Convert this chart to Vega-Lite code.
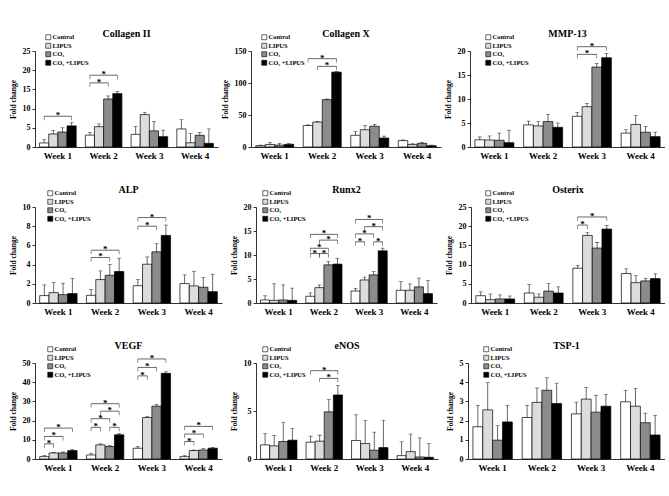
{
"$schema": "https://vega.github.io/schema/vega-lite/v6.json",
"padding": {"left": 9, "top": 29, "right": 0, "bottom": 0},
"datasets": {
"bars": [
{"gene":"Collagen II","week":"Week 1","group":"Control","value":1.05,"upper":1.9},
{"gene":"Collagen II","week":"Week 1","group":"LIPUS","value":3.4,"upper":4.3},
{"gene":"Collagen II","week":"Week 1","group":"CO₂","value":3.9,"upper":5.0},
{"gene":"Collagen II","week":"Week 1","group":"CO₂ +LIPUS","value":5.5,"upper":6.3},
{"gene":"Collagen II","week":"Week 2","group":"Control","value":3.1,"upper":3.8},
{"gene":"Collagen II","week":"Week 2","group":"LIPUS","value":5.3,"upper":6.0},
{"gene":"Collagen II","week":"Week 2","group":"CO₂","value":12.5,"upper":13.3},
{"gene":"Collagen II","week":"Week 2","group":"CO₂ +LIPUS","value":13.9,"upper":14.5},
{"gene":"Collagen II","week":"Week 3","group":"Control","value":3.3,"upper":5.4},
{"gene":"Collagen II","week":"Week 3","group":"LIPUS","value":8.45,"upper":9.05},
{"gene":"Collagen II","week":"Week 3","group":"CO₂","value":4.2,"upper":6.7},
{"gene":"Collagen II","week":"Week 3","group":"CO₂ +LIPUS","value":2.7,"upper":4.4},
{"gene":"Collagen II","week":"Week 4","group":"Control","value":4.7,"upper":7.1},
{"gene":"Collagen II","week":"Week 4","group":"LIPUS","value":1.1,"upper":3.5},
{"gene":"Collagen II","week":"Week 4","group":"CO₂","value":3.05,"upper":3.8},
{"gene":"Collagen II","week":"Week 4","group":"CO₂ +LIPUS","value":0.95,"upper":4.7},
{"gene":"Collagen X","week":"Week 1","group":"Control","value":2.1,"upper":3.0},
{"gene":"Collagen X","week":"Week 1","group":"LIPUS","value":4.0,"upper":6.8},
{"gene":"Collagen X","week":"Week 1","group":"CO₂","value":3.0,"upper":5.7},
{"gene":"Collagen X","week":"Week 1","group":"CO₂ +LIPUS","value":4.2,"upper":5.2},
{"gene":"Collagen X","week":"Week 2","group":"Control","value":33.5,"upper":34.5},
{"gene":"Collagen X","week":"Week 2","group":"LIPUS","value":39,"upper":40},
{"gene":"Collagen X","week":"Week 2","group":"CO₂","value":74,"upper":75},
{"gene":"Collagen X","week":"Week 2","group":"CO₂ +LIPUS","value":117,"upper":118},
{"gene":"Collagen X","week":"Week 3","group":"Control","value":18.3,"upper":24},
{"gene":"Collagen X","week":"Week 3","group":"LIPUS","value":27,"upper":33.5},
{"gene":"Collagen X","week":"Week 3","group":"CO₂","value":32.4,"upper":35.5},
{"gene":"Collagen X","week":"Week 3","group":"CO₂ +LIPUS","value":14,"upper":17},
{"gene":"Collagen X","week":"Week 4","group":"Control","value":10,"upper":11},
{"gene":"Collagen X","week":"Week 4","group":"LIPUS","value":4,"upper":5},
{"gene":"Collagen X","week":"Week 4","group":"CO₂","value":5.7,"upper":6.8},
{"gene":"Collagen X","week":"Week 4","group":"CO₂ +LIPUS","value":2,"upper":3},
{"gene":"MMP-13","week":"Week 1","group":"Control","value":1.5,"upper":2.1},
{"gene":"MMP-13","week":"Week 1","group":"LIPUS","value":1.46,"upper":2.3},
{"gene":"MMP-13","week":"Week 1","group":"CO₂","value":1.4,"upper":2.9},
{"gene":"MMP-13","week":"Week 1","group":"CO₂ +LIPUS","value":0.9,"upper":3.5},
{"gene":"MMP-13","week":"Week 2","group":"Control","value":4.6,"upper":5.4},
{"gene":"MMP-13","week":"Week 2","group":"LIPUS","value":4.4,"upper":5.3},
{"gene":"MMP-13","week":"Week 2","group":"CO₂","value":5.3,"upper":6.8},
{"gene":"MMP-13","week":"Week 2","group":"CO₂ +LIPUS","value":4.1,"upper":5.0},
{"gene":"MMP-13","week":"Week 3","group":"Control","value":6.4,"upper":7.2},
{"gene":"MMP-13","week":"Week 3","group":"LIPUS","value":8.4,"upper":9.05},
{"gene":"MMP-13","week":"Week 3","group":"CO₂","value":16.65,"upper":17.4},
{"gene":"MMP-13","week":"Week 3","group":"CO₂ +LIPUS","value":18.6,"upper":19.5},
{"gene":"MMP-13","week":"Week 4","group":"Control","value":2.9,"upper":3.6},
{"gene":"MMP-13","week":"Week 4","group":"LIPUS","value":4.7,"upper":6.55},
{"gene":"MMP-13","week":"Week 4","group":"CO₂","value":3.07,"upper":4.3},
{"gene":"MMP-13","week":"Week 4","group":"CO₂ +LIPUS","value":2.16,"upper":3.1},
{"gene":"ALP","week":"Week 1","group":"Control","value":0.77,"upper":1.88},
{"gene":"ALP","week":"Week 1","group":"LIPUS","value":1.08,"upper":2.13},
{"gene":"ALP","week":"Week 1","group":"CO₂","value":0.87,"upper":2.06},
{"gene":"ALP","week":"Week 1","group":"CO₂ +LIPUS","value":0.98,"upper":2.58},
{"gene":"ALP","week":"Week 2","group":"Control","value":0.8,"upper":1.43},
{"gene":"ALP","week":"Week 2","group":"LIPUS","value":2.44,"upper":3.34},
{"gene":"ALP","week":"Week 2","group":"CO₂","value":2.89,"upper":4.0},
{"gene":"ALP","week":"Week 2","group":"CO₂ +LIPUS","value":3.28,"upper":4.67},
{"gene":"ALP","week":"Week 3","group":"Control","value":1.8,"upper":2.44},
{"gene":"ALP","week":"Week 3","group":"LIPUS","value":4.04,"upper":4.8},
{"gene":"ALP","week":"Week 3","group":"CO₂","value":5.33,"upper":6.17},
{"gene":"ALP","week":"Week 3","group":"CO₂ +LIPUS","value":7.04,"upper":8.12},
{"gene":"ALP","week":"Week 4","group":"Control","value":2.02,"upper":2.93},
{"gene":"ALP","week":"Week 4","group":"LIPUS","value":1.78,"upper":3.31},
{"gene":"ALP","week":"Week 4","group":"CO₂","value":1.64,"upper":2.65},
{"gene":"ALP","week":"Week 4","group":"CO₂ +LIPUS","value":1.18,"upper":3.0},
{"gene":"Runx2","week":"Week 1","group":"Control","value":0.63,"upper":1.5},
{"gene":"Runx2","week":"Week 1","group":"LIPUS","value":0.55,"upper":4.0},
{"gene":"Runx2","week":"Week 1","group":"CO₂","value":0.63,"upper":3.76},
{"gene":"Runx2","week":"Week 1","group":"CO₂ +LIPUS","value":0.55,"upper":3.1},
{"gene":"Runx2","week":"Week 2","group":"Control","value":1.4,"upper":2.1},
{"gene":"Runx2","week":"Week 2","group":"LIPUS","value":3.2,"upper":3.76},
{"gene":"Runx2","week":"Week 2","group":"CO₂","value":7.94,"upper":8.64},
{"gene":"Runx2","week":"Week 2","group":"CO₂ +LIPUS","value":8.1,"upper":9.27},
{"gene":"Runx2","week":"Week 3","group":"Control","value":2.5,"upper":3.07},
{"gene":"Runx2","week":"Week 3","group":"LIPUS","value":4.8,"upper":5.4},
{"gene":"Runx2","week":"Week 3","group":"CO₂","value":5.85,"upper":6.55},
{"gene":"Runx2","week":"Week 3","group":"CO₂ +LIPUS","value":10.87,"upper":11.43},
{"gene":"Runx2","week":"Week 4","group":"Control","value":2.65,"upper":4.46},
{"gene":"Runx2","week":"Week 4","group":"LIPUS","value":2.65,"upper":3.97},
{"gene":"Runx2","week":"Week 4","group":"CO₂","value":3.35,"upper":5.2},
{"gene":"Runx2","week":"Week 4","group":"CO₂ +LIPUS","value":1.95,"upper":4.67},
{"gene":"Osterix","week":"Week 1","group":"Control","value":1.9,"upper":2.9},
{"gene":"Osterix","week":"Week 1","group":"LIPUS","value":0.87,"upper":2.35},
{"gene":"Osterix","week":"Week 1","group":"CO₂","value":1.05,"upper":2.1},
{"gene":"Osterix","week":"Week 1","group":"CO₂ +LIPUS","value":1.05,"upper":1.83},
{"gene":"Osterix","week":"Week 2","group":"Control","value":2.6,"upper":4.8},
{"gene":"Osterix","week":"Week 2","group":"LIPUS","value":1.5,"upper":2.35},
{"gene":"Osterix","week":"Week 2","group":"CO₂","value":3.1,"upper":5.05},
{"gene":"Osterix","week":"Week 2","group":"CO₂ +LIPUS","value":2.6,"upper":4.2},
{"gene":"Osterix","week":"Week 3","group":"Control","value":9.06,"upper":9.84},
{"gene":"Osterix","week":"Week 3","group":"LIPUS","value":17.6,"upper":18.3},
{"gene":"Osterix","week":"Week 3","group":"CO₂","value":14.3,"upper":15.8},
{"gene":"Osterix","week":"Week 3","group":"CO₂ +LIPUS","value":19.25,"upper":20.2},
{"gene":"Osterix","week":"Week 4","group":"Control","value":7.67,"upper":8.9},
{"gene":"Osterix","week":"Week 4","group":"LIPUS","value":5.3,"upper":7.1},
{"gene":"Osterix","week":"Week 4","group":"CO₂","value":5.75,"upper":6.45},
{"gene":"Osterix","week":"Week 4","group":"CO₂ +LIPUS","value":6.36,"upper":7.58},
{"gene":"VEGF","week":"Week 1","group":"Control","value":1.23,"upper":1.93},
{"gene":"VEGF","week":"Week 1","group":"LIPUS","value":3.16,"upper":3.5},
{"gene":"VEGF","week":"Week 1","group":"CO₂","value":3.16,"upper":3.68},
{"gene":"VEGF","week":"Week 1","group":"CO₂ +LIPUS","value":4.4,"upper":4.9},
{"gene":"VEGF","week":"Week 2","group":"Control","value":2.1,"upper":3.0},
{"gene":"VEGF","week":"Week 2","group":"LIPUS","value":7.37,"upper":7.9},
{"gene":"VEGF","week":"Week 2","group":"CO₂","value":6.5,"upper":7.0},
{"gene":"VEGF","week":"Week 2","group":"CO₂ +LIPUS","value":12.6,"upper":13.3},
{"gene":"VEGF","week":"Week 3","group":"Control","value":5.6,"upper":6.5},
{"gene":"VEGF","week":"Week 3","group":"LIPUS","value":21.6,"upper":22.1},
{"gene":"VEGF","week":"Week 3","group":"CO₂","value":27.5,"upper":28.4},
{"gene":"VEGF","week":"Week 3","group":"CO₂ +LIPUS","value":44.6,"upper":45.4},
{"gene":"VEGF","week":"Week 4","group":"Control","value":1.23,"upper":1.75},
{"gene":"VEGF","week":"Week 4","group":"LIPUS","value":4.4,"upper":4.7},
{"gene":"VEGF","week":"Week 4","group":"CO₂","value":4.7,"upper":5.4},
{"gene":"VEGF","week":"Week 4","group":"CO₂ +LIPUS","value":5.6,"upper":6.1},
{"gene":"eNOS","week":"Week 1","group":"Control","value":1.47,"upper":2.63},
{"gene":"eNOS","week":"Week 1","group":"LIPUS","value":1.37,"upper":2.46},
{"gene":"eNOS","week":"Week 1","group":"CO₂","value":1.82,"upper":3.79},
{"gene":"eNOS","week":"Week 1","group":"CO₂ +LIPUS","value":1.96,"upper":3.16},
{"gene":"eNOS","week":"Week 2","group":"Control","value":1.75,"upper":2.39},
{"gene":"eNOS","week":"Week 2","group":"LIPUS","value":1.86,"upper":2.49},
{"gene":"eNOS","week":"Week 2","group":"CO₂","value":4.91,"upper":6.2},
{"gene":"eNOS","week":"Week 2","group":"CO₂ +LIPUS","value":6.67,"upper":7.68},
{"gene":"eNOS","week":"Week 3","group":"Control","value":1.93,"upper":4.6},
{"gene":"eNOS","week":"Week 3","group":"LIPUS","value":1.61,"upper":4.0},
{"gene":"eNOS","week":"Week 3","group":"CO₂","value":0.91,"upper":2.8},
{"gene":"eNOS","week":"Week 3","group":"CO₂ +LIPUS","value":1.19,"upper":4.04},
{"gene":"eNOS","week":"Week 4","group":"Control","value":0.35,"upper":1.79},
{"gene":"eNOS","week":"Week 4","group":"LIPUS","value":0.77,"upper":2.6},
{"gene":"eNOS","week":"Week 4","group":"CO₂","value":0.21,"upper":2.2},
{"gene":"eNOS","week":"Week 4","group":"CO₂ +LIPUS","value":0.18,"upper":1.6},
{"gene":"TSP-1","week":"Week 1","group":"Control","value":1.68,"upper":2.8},
{"gene":"TSP-1","week":"Week 1","group":"LIPUS","value":2.56,"upper":3.98},
{"gene":"TSP-1","week":"Week 1","group":"CO₂","value":0.98,"upper":1.74},
{"gene":"TSP-1","week":"Week 1","group":"CO₂ +LIPUS","value":1.93,"upper":2.8},
{"gene":"TSP-1","week":"Week 2","group":"Control","value":2.16,"upper":2.8},
{"gene":"TSP-1","week":"Week 2","group":"LIPUS","value":2.95,"upper":3.7},
{"gene":"TSP-1","week":"Week 2","group":"CO₂","value":3.58,"upper":4.23},
{"gene":"TSP-1","week":"Week 2","group":"CO₂ +LIPUS","value":2.89,"upper":3.95},
{"gene":"TSP-1","week":"Week 3","group":"Control","value":2.35,"upper":2.96},
{"gene":"TSP-1","week":"Week 3","group":"LIPUS","value":3.12,"upper":3.72},
{"gene":"TSP-1","week":"Week 3","group":"CO₂","value":2.44,"upper":3.32},
{"gene":"TSP-1","week":"Week 3","group":"CO₂ +LIPUS","value":2.75,"upper":3.37},
{"gene":"TSP-1","week":"Week 4","group":"Control","value":2.98,"upper":3.58},
{"gene":"TSP-1","week":"Week 4","group":"LIPUS","value":2.75,"upper":3.68},
{"gene":"TSP-1","week":"Week 4","group":"CO₂","value":1.89,"upper":2.39},
{"gene":"TSP-1","week":"Week 4","group":"CO₂ +LIPUS","value":1.25,"upper":2.28}
],
"brackets": [
{"gene":"Collagen II","week":"Week 1","from":"Control","to":"CO₂ +LIPUS","level":8.0},
{"gene":"Collagen II","week":"Week 2","from":"Control","to":"CO₂","level":16.7},
{"gene":"Collagen II","week":"Week 2","from":"Control","to":"CO₂ +LIPUS","level":18.7},
{"gene":"Collagen X","week":"Week 2","from":"Control","to":"CO₂ +LIPUS","level":138},
{"gene":"Collagen X","week":"Week 2","from":"LIPUS","to":"CO₂ +LIPUS","level":126},
{"gene":"MMP-13","week":"Week 3","from":"Control","to":"CO₂","level":19.3},
{"gene":"MMP-13","week":"Week 3","from":"Control","to":"CO₂ +LIPUS","level":20.9},
{"gene":"ALP","week":"Week 2","from":"Control","to":"CO₂","level":4.74},
{"gene":"ALP","week":"Week 2","from":"Control","to":"CO₂ +LIPUS","level":5.5},
{"gene":"ALP","week":"Week 3","from":"Control","to":"CO₂","level":8.0},
{"gene":"ALP","week":"Week 3","from":"Control","to":"CO₂ +LIPUS","level":8.9},
{"gene":"Runx2","week":"Week 2","from":"Control","to":"LIPUS","level":10.3},
{"gene":"Runx2","week":"Week 2","from":"LIPUS","to":"CO₂","level":10.3},
{"gene":"Runx2","week":"Week 2","from":"Control","to":"CO₂","level":11.4},
{"gene":"Runx2","week":"Week 2","from":"LIPUS","to":"CO₂ +LIPUS","level":13.1},
{"gene":"Runx2","week":"Week 2","from":"Control","to":"CO₂ +LIPUS","level":14.3},
{"gene":"Runx2","week":"Week 3","from":"Control","to":"LIPUS","level":12.75},
{"gene":"Runx2","week":"Week 3","from":"CO₂","to":"CO₂ +LIPUS","level":12.75},
{"gene":"Runx2","week":"Week 3","from":"Control","to":"CO₂","level":14.4},
{"gene":"Runx2","week":"Week 3","from":"LIPUS","to":"CO₂ +LIPUS","level":15.9},
{"gene":"Runx2","week":"Week 3","from":"Control","to":"CO₂ +LIPUS","level":17.4},
{"gene":"Osterix","week":"Week 3","from":"Control","to":"LIPUS","level":20.3},
{"gene":"Osterix","week":"Week 3","from":"Control","to":"CO₂ +LIPUS","level":22.4},
{"gene":"VEGF","week":"Week 1","from":"Control","to":"LIPUS","level":7.9},
{"gene":"VEGF","week":"Week 1","from":"Control","to":"CO₂","level":11.75},
{"gene":"VEGF","week":"Week 1","from":"Control","to":"CO₂ +LIPUS","level":16.1},
{"gene":"VEGF","week":"Week 2","from":"Control","to":"LIPUS","level":16.5},
{"gene":"VEGF","week":"Week 2","from":"CO₂","to":"CO₂ +LIPUS","level":16.5},
{"gene":"VEGF","week":"Week 2","from":"Control","to":"CO₂","level":21},
{"gene":"VEGF","week":"Week 2","from":"LIPUS","to":"CO₂ +LIPUS","level":24.9},
{"gene":"VEGF","week":"Week 2","from":"Control","to":"CO₂ +LIPUS","level":28.8},
{"gene":"VEGF","week":"Week 3","from":"Control","to":"LIPUS","level":43.3},
{"gene":"VEGF","week":"Week 3","from":"Control","to":"CO₂","level":47.7},
{"gene":"VEGF","week":"Week 3","from":"Control","to":"CO₂ +LIPUS","level":52.1},
{"gene":"VEGF","week":"Week 4","from":"Control","to":"LIPUS","level":9.1},
{"gene":"VEGF","week":"Week 4","from":"Control","to":"CO₂","level":13},
{"gene":"VEGF","week":"Week 4","from":"Control","to":"CO₂ +LIPUS","level":17},
{"gene":"eNOS","week":"Week 2","from":"Control","to":"CO₂ +LIPUS","level":9.2},
{"gene":"eNOS","week":"Week 2","from":"LIPUS","to":"CO₂ +LIPUS","level":8.4}
]
},
"config": {
"view": {"stroke": null},
"font": "Liberation Serif",
"axis": {"labelFont": "Liberation Serif", "labelFontWeight": "bold", "titleFont": "Liberation Serif", "titleFontWeight": "bold", "domainColor": "black", "tickColor": "black", "labelColor": "black", "titleColor": "black", "grid": false, "domainWidth": 0.8, "tickWidth": 0.8},
"axisX": {"labelFontSize": 9, "ticks": false, "labelPadding": 4, "labelAngle": 0},
"axisY": {"labelFontSize": 8, "titleFontSize": 7.5, "tickSize": 3, "labelPadding": 2, "titlePadding": 5},
"title": {"font": "Liberation Serif", "fontSize": 10, "fontWeight": "bold", "color": "black", "anchor": "middle", "frame": "group", "offset": -5},
"legend": {"symbolType": "square", "symbolSize": 25, "symbolStrokeColor": "black", "symbolStrokeWidth": 0.6, "labelFont": "Liberation Serif", "labelFontSize": 6.5, "labelFontWeight": "bold", "labelColor": "black", "rowPadding": 0.5, "labelOffset": 1, "padding": 0, "symbolOffset": 0},
"text": {"font": "Liberation Serif", "fontSize": 9, "fontWeight": "bold", "color": "black", "baseline": "alphabetic", "dy": 2}
},
"resolve": {"scale": {"fill": "independent"}, "legend": {"fill": "independent"}},
"spacing": 25,
"vconcat": [
{"spacing": 3, "resolve": {"scale": {"fill": "independent"}, "legend": {"fill": "independent"}}, "hconcat": [
{"width": 183, "height": 96, "title": {"text": "Collagen II"}, "layer": [
 {"data": {"name": "bars"}, "transform": [{"filter": "datum.gene === 'Collagen II'"}, {"calculate": "datum.week + '|' + datum.group", "as": "k"}],
  "encoding": {"x": {"field": "k", "type": "nominal", "scale": {"domain": ["Week 1|Control","Week 1|LIPUS","Week 1|CO₂","Week 1|CO₂ +LIPUS","g1","Week 2|Control","Week 2|LIPUS","Week 2|CO₂","Week 2|CO₂ +LIPUS","g2","Week 3|Control","Week 3|LIPUS","Week 3|CO₂","Week 3|CO₂ +LIPUS","g3","Week 4|Control","Week 4|LIPUS","Week 4|CO₂","Week 4|CO₂ +LIPUS"], "paddingInner": 0, "paddingOuter": 0.5}, "axis": {"values": ["Week 1|LIPUS","Week 2|LIPUS","Week 3|LIPUS","Week 4|LIPUS"], "labelExpr": "split(datum.value, '|')[0]", "labelOffset": 4.6, "title": null}},
   "y": {"field": "value", "type": "quantitative", "scale": {"domain": [0, 25], "nice": false}, "axis": {"title": "Fold change", "values": [0,5,10,15,20,25]}}},
  "layer": [
  {"mark": {"type": "bar", "stroke": "black", "strokeWidth": 0.7}, "encoding": {"fill": {"field": "group", "type": "nominal", "scale": {"domain": ["Control","LIPUS","CO₂","CO₂ +LIPUS"], "range": ["#ffffff","#dcdcdc","#8c8c8c","#000000"]}, "legend": {"title": null, "orient": "none", "legendX": 10, "legendY": -17}}}},
  {"mark": {"type": "rule", "color": "black", "strokeWidth": 0.6}, "encoding": {"y2": {"field": "upper"}}},
  {"mark": {"type": "tick", "color": "black", "size": 4, "thickness": 0.6}, "encoding": {"y": {"field": "upper", "type": "quantitative", "scale": {"domain": [0, 25], "nice": false}, "axis": {"title": "Fold change", "values": [0,5,10,15,20,25]}}}}
 ]},
 {"data": {"name": "brackets"}, "transform": [{"filter": "datum.gene === 'Collagen II'"}, {"window": [{"op": "row_number", "as": "id"}]}, {"calculate": "datum.week + '|' + datum.from", "as": "k1"}, {"calculate": "datum.week + '|' + datum.to", "as": "k2"}, {"fold": ["k1", "k2"], "as": ["end", "pos"]}],
  "encoding": {"x": {"field": "pos", "type": "nominal", "scale": {"domain": ["Week 1|Control","Week 1|LIPUS","Week 1|CO₂","Week 1|CO₂ +LIPUS","g1","Week 2|Control","Week 2|LIPUS","Week 2|CO₂","Week 2|CO₂ +LIPUS","g2","Week 3|Control","Week 3|LIPUS","Week 3|CO₂","Week 3|CO₂ +LIPUS","g3","Week 4|Control","Week 4|LIPUS","Week 4|CO₂","Week 4|CO₂ +LIPUS"], "paddingInner": 0, "paddingOuter": 0.5}, "axis": {"values": ["Week 1|LIPUS","Week 2|LIPUS","Week 3|LIPUS","Week 4|LIPUS"], "labelExpr": "split(datum.value, '|')[0]", "labelOffset": 4.6, "title": null}},
   "y": {"field": "level", "type": "quantitative", "scale": {"domain": [0, 25], "nice": false}, "axis": {"title": "Fold change", "values": [0,5,10,15,20,25]}}},
  "layer": [
  {"mark": {"type": "line", "color": "black", "strokeWidth": 0.6}, "encoding": {"detail": {"field": "id", "type": "nominal"}}},
  {"mark": {"type": "tick", "orient": "vertical", "color": "black", "size": 4, "thickness": 0.6, "yOffset": 2}}
 ]},
 {"data": {"name": "brackets"}, "transform": [{"filter": "datum.gene === 'Collagen II'"}, {"calculate": "indexof(['Control','LIPUS','CO₂','CO₂ +LIPUS'], datum.from) + indexof(['Control','LIPUS','CO₂','CO₂ +LIPUS'], datum.to)", "as": "s"}, {"calculate": "datum.week + '|' + ['Control','LIPUS','CO₂','CO₂ +LIPUS'][floor(datum.s / 2)]", "as": "mid"}],
  "encoding": {"y": {"field": "level", "type": "quantitative", "scale": {"domain": [0, 25], "nice": false}, "axis": {"title": "Fold change", "values": [0,5,10,15,20,25]}}},
  "layer": [
  {"transform": [{"filter": "datum.s % 2 === 0"}], "mark": {"type": "text", "text": "*"}, "encoding": {"x": {"field": "mid", "type": "nominal", "bandPosition": 0.5, "scale": {"domain": ["Week 1|Control","Week 1|LIPUS","Week 1|CO₂","Week 1|CO₂ +LIPUS","g1","Week 2|Control","Week 2|LIPUS","Week 2|CO₂","Week 2|CO₂ +LIPUS","g2","Week 3|Control","Week 3|LIPUS","Week 3|CO₂","Week 3|CO₂ +LIPUS","g3","Week 4|Control","Week 4|LIPUS","Week 4|CO₂","Week 4|CO₂ +LIPUS"], "paddingInner": 0, "paddingOuter": 0.5}, "axis": {"values": ["Week 1|LIPUS","Week 2|LIPUS","Week 3|LIPUS","Week 4|LIPUS"], "labelExpr": "split(datum.value, '|')[0]", "labelOffset": 4.6, "title": null}}}},
  {"transform": [{"filter": "datum.s % 2 === 1"}], "mark": {"type": "text", "text": "*"}, "encoding": {"x": {"field": "mid", "type": "nominal", "bandPosition": 1, "scale": {"domain": ["Week 1|Control","Week 1|LIPUS","Week 1|CO₂","Week 1|CO₂ +LIPUS","g1","Week 2|Control","Week 2|LIPUS","Week 2|CO₂","Week 2|CO₂ +LIPUS","g2","Week 3|Control","Week 3|LIPUS","Week 3|CO₂","Week 3|CO₂ +LIPUS","g3","Week 4|Control","Week 4|LIPUS","Week 4|CO₂","Week 4|CO₂ +LIPUS"], "paddingInner": 0, "paddingOuter": 0.5}, "axis": {"values": ["Week 1|LIPUS","Week 2|LIPUS","Week 3|LIPUS","Week 4|LIPUS"], "labelExpr": "split(datum.value, '|')[0]", "labelOffset": 4.6, "title": null}}}}
 ]}
]},
{"width": 190, "height": 96, "title": {"text": "Collagen X"}, "layer": [
 {"data": {"name": "bars"}, "transform": [{"filter": "datum.gene === 'Collagen X'"}, {"calculate": "datum.week + '|' + datum.group", "as": "k"}],
  "encoding": {"x": {"field": "k", "type": "nominal", "scale": {"domain": ["Week 1|Control","Week 1|LIPUS","Week 1|CO₂","Week 1|CO₂ +LIPUS","g1","Week 2|Control","Week 2|LIPUS","Week 2|CO₂","Week 2|CO₂ +LIPUS","g2","Week 3|Control","Week 3|LIPUS","Week 3|CO₂","Week 3|CO₂ +LIPUS","g3","Week 4|Control","Week 4|LIPUS","Week 4|CO₂","Week 4|CO₂ +LIPUS"], "paddingInner": 0, "paddingOuter": 0.5}, "axis": {"values": ["Week 1|LIPUS","Week 2|LIPUS","Week 3|LIPUS","Week 4|LIPUS"], "labelExpr": "split(datum.value, '|')[0]", "labelOffset": 4.7, "title": null}},
   "y": {"field": "value", "type": "quantitative", "scale": {"domain": [0, 150], "nice": false}, "axis": {"title": "Fold change", "values": [0,50,100,150]}}},
  "layer": [
  {"mark": {"type": "bar", "stroke": "black", "strokeWidth": 0.7}, "encoding": {"fill": {"field": "group", "type": "nominal", "scale": {"domain": ["Control","LIPUS","CO₂","CO₂ +LIPUS"], "range": ["#ffffff","#dcdcdc","#8c8c8c","#000000"]}, "legend": {"title": null, "orient": "none", "legendX": 10, "legendY": -17}}}},
  {"mark": {"type": "rule", "color": "black", "strokeWidth": 0.6}, "encoding": {"y2": {"field": "upper"}}},
  {"mark": {"type": "tick", "color": "black", "size": 4, "thickness": 0.6}, "encoding": {"y": {"field": "upper", "type": "quantitative", "scale": {"domain": [0, 150], "nice": false}, "axis": {"title": "Fold change", "values": [0,50,100,150]}}}}
 ]},
 {"data": {"name": "brackets"}, "transform": [{"filter": "datum.gene === 'Collagen X'"}, {"window": [{"op": "row_number", "as": "id"}]}, {"calculate": "datum.week + '|' + datum.from", "as": "k1"}, {"calculate": "datum.week + '|' + datum.to", "as": "k2"}, {"fold": ["k1", "k2"], "as": ["end", "pos"]}],
  "encoding": {"x": {"field": "pos", "type": "nominal", "scale": {"domain": ["Week 1|Control","Week 1|LIPUS","Week 1|CO₂","Week 1|CO₂ +LIPUS","g1","Week 2|Control","Week 2|LIPUS","Week 2|CO₂","Week 2|CO₂ +LIPUS","g2","Week 3|Control","Week 3|LIPUS","Week 3|CO₂","Week 3|CO₂ +LIPUS","g3","Week 4|Control","Week 4|LIPUS","Week 4|CO₂","Week 4|CO₂ +LIPUS"], "paddingInner": 0, "paddingOuter": 0.5}, "axis": {"values": ["Week 1|LIPUS","Week 2|LIPUS","Week 3|LIPUS","Week 4|LIPUS"], "labelExpr": "split(datum.value, '|')[0]", "labelOffset": 4.7, "title": null}},
   "y": {"field": "level", "type": "quantitative", "scale": {"domain": [0, 150], "nice": false}, "axis": {"title": "Fold change", "values": [0,50,100,150]}}},
  "layer": [
  {"mark": {"type": "line", "color": "black", "strokeWidth": 0.6}, "encoding": {"detail": {"field": "id", "type": "nominal"}}},
  {"mark": {"type": "tick", "orient": "vertical", "color": "black", "size": 4, "thickness": 0.6, "yOffset": 2}}
 ]},
 {"data": {"name": "brackets"}, "transform": [{"filter": "datum.gene === 'Collagen X'"}, {"calculate": "indexof(['Control','LIPUS','CO₂','CO₂ +LIPUS'], datum.from) + indexof(['Control','LIPUS','CO₂','CO₂ +LIPUS'], datum.to)", "as": "s"}, {"calculate": "datum.week + '|' + ['Control','LIPUS','CO₂','CO₂ +LIPUS'][floor(datum.s / 2)]", "as": "mid"}],
  "encoding": {"y": {"field": "level", "type": "quantitative", "scale": {"domain": [0, 150], "nice": false}, "axis": {"title": "Fold change", "values": [0,50,100,150]}}},
  "layer": [
  {"transform": [{"filter": "datum.s % 2 === 0"}], "mark": {"type": "text", "text": "*"}, "encoding": {"x": {"field": "mid", "type": "nominal", "bandPosition": 0.5, "scale": {"domain": ["Week 1|Control","Week 1|LIPUS","Week 1|CO₂","Week 1|CO₂ +LIPUS","g1","Week 2|Control","Week 2|LIPUS","Week 2|CO₂","Week 2|CO₂ +LIPUS","g2","Week 3|Control","Week 3|LIPUS","Week 3|CO₂","Week 3|CO₂ +LIPUS","g3","Week 4|Control","Week 4|LIPUS","Week 4|CO₂","Week 4|CO₂ +LIPUS"], "paddingInner": 0, "paddingOuter": 0.5}, "axis": {"values": ["Week 1|LIPUS","Week 2|LIPUS","Week 3|LIPUS","Week 4|LIPUS"], "labelExpr": "split(datum.value, '|')[0]", "labelOffset": 4.7, "title": null}}}},
  {"transform": [{"filter": "datum.s % 2 === 1"}], "mark": {"type": "text", "text": "*"}, "encoding": {"x": {"field": "mid", "type": "nominal", "bandPosition": 1, "scale": {"domain": ["Week 1|Control","Week 1|LIPUS","Week 1|CO₂","Week 1|CO₂ +LIPUS","g1","Week 2|Control","Week 2|LIPUS","Week 2|CO₂","Week 2|CO₂ +LIPUS","g2","Week 3|Control","Week 3|LIPUS","Week 3|CO₂","Week 3|CO₂ +LIPUS","g3","Week 4|Control","Week 4|LIPUS","Week 4|CO₂","Week 4|CO₂ +LIPUS"], "paddingInner": 0, "paddingOuter": 0.5}, "axis": {"values": ["Week 1|LIPUS","Week 2|LIPUS","Week 3|LIPUS","Week 4|LIPUS"], "labelExpr": "split(datum.value, '|')[0]", "labelOffset": 4.7, "title": null}}}}
 ]}
]},
{"width": 195, "height": 96, "title": {"text": "MMP-13"}, "layer": [
 {"data": {"name": "bars"}, "transform": [{"filter": "datum.gene === 'MMP-13'"}, {"calculate": "datum.week + '|' + datum.group", "as": "k"}],
  "encoding": {"x": {"field": "k", "type": "nominal", "scale": {"domain": ["Week 1|Control","Week 1|LIPUS","Week 1|CO₂","Week 1|CO₂ +LIPUS","g1","Week 2|Control","Week 2|LIPUS","Week 2|CO₂","Week 2|CO₂ +LIPUS","g2","Week 3|Control","Week 3|LIPUS","Week 3|CO₂","Week 3|CO₂ +LIPUS","g3","Week 4|Control","Week 4|LIPUS","Week 4|CO₂","Week 4|CO₂ +LIPUS"], "paddingInner": 0, "paddingOuter": 0.5}, "axis": {"values": ["Week 1|LIPUS","Week 2|LIPUS","Week 3|LIPUS","Week 4|LIPUS"], "labelExpr": "split(datum.value, '|')[0]", "labelOffset": 4.9, "title": null}},
   "y": {"field": "value", "type": "quantitative", "scale": {"domain": [0, 20], "nice": false}, "axis": {"title": "Fold change", "values": [0,5,10,15,20]}}},
  "layer": [
  {"mark": {"type": "bar", "stroke": "black", "strokeWidth": 0.7}, "encoding": {"fill": {"field": "group", "type": "nominal", "scale": {"domain": ["Control","LIPUS","CO₂","CO₂ +LIPUS"], "range": ["#ffffff","#dcdcdc","#8c8c8c","#000000"]}, "legend": {"title": null, "orient": "none", "legendX": 15, "legendY": -17}}}},
  {"mark": {"type": "rule", "color": "black", "strokeWidth": 0.6}, "encoding": {"y2": {"field": "upper"}}},
  {"mark": {"type": "tick", "color": "black", "size": 4, "thickness": 0.6}, "encoding": {"y": {"field": "upper", "type": "quantitative", "scale": {"domain": [0, 20], "nice": false}, "axis": {"title": "Fold change", "values": [0,5,10,15,20]}}}}
 ]},
 {"data": {"name": "brackets"}, "transform": [{"filter": "datum.gene === 'MMP-13'"}, {"window": [{"op": "row_number", "as": "id"}]}, {"calculate": "datum.week + '|' + datum.from", "as": "k1"}, {"calculate": "datum.week + '|' + datum.to", "as": "k2"}, {"fold": ["k1", "k2"], "as": ["end", "pos"]}],
  "encoding": {"x": {"field": "pos", "type": "nominal", "scale": {"domain": ["Week 1|Control","Week 1|LIPUS","Week 1|CO₂","Week 1|CO₂ +LIPUS","g1","Week 2|Control","Week 2|LIPUS","Week 2|CO₂","Week 2|CO₂ +LIPUS","g2","Week 3|Control","Week 3|LIPUS","Week 3|CO₂","Week 3|CO₂ +LIPUS","g3","Week 4|Control","Week 4|LIPUS","Week 4|CO₂","Week 4|CO₂ +LIPUS"], "paddingInner": 0, "paddingOuter": 0.5}, "axis": {"values": ["Week 1|LIPUS","Week 2|LIPUS","Week 3|LIPUS","Week 4|LIPUS"], "labelExpr": "split(datum.value, '|')[0]", "labelOffset": 4.9, "title": null}},
   "y": {"field": "level", "type": "quantitative", "scale": {"domain": [0, 20], "nice": false}, "axis": {"title": "Fold change", "values": [0,5,10,15,20]}}},
  "layer": [
  {"mark": {"type": "line", "color": "black", "strokeWidth": 0.6}, "encoding": {"detail": {"field": "id", "type": "nominal"}}},
  {"mark": {"type": "tick", "orient": "vertical", "color": "black", "size": 4, "thickness": 0.6, "yOffset": 2}}
 ]},
 {"data": {"name": "brackets"}, "transform": [{"filter": "datum.gene === 'MMP-13'"}, {"calculate": "indexof(['Control','LIPUS','CO₂','CO₂ +LIPUS'], datum.from) + indexof(['Control','LIPUS','CO₂','CO₂ +LIPUS'], datum.to)", "as": "s"}, {"calculate": "datum.week + '|' + ['Control','LIPUS','CO₂','CO₂ +LIPUS'][floor(datum.s / 2)]", "as": "mid"}],
  "encoding": {"y": {"field": "level", "type": "quantitative", "scale": {"domain": [0, 20], "nice": false}, "axis": {"title": "Fold change", "values": [0,5,10,15,20]}}},
  "layer": [
  {"transform": [{"filter": "datum.s % 2 === 0"}], "mark": {"type": "text", "text": "*"}, "encoding": {"x": {"field": "mid", "type": "nominal", "bandPosition": 0.5, "scale": {"domain": ["Week 1|Control","Week 1|LIPUS","Week 1|CO₂","Week 1|CO₂ +LIPUS","g1","Week 2|Control","Week 2|LIPUS","Week 2|CO₂","Week 2|CO₂ +LIPUS","g2","Week 3|Control","Week 3|LIPUS","Week 3|CO₂","Week 3|CO₂ +LIPUS","g3","Week 4|Control","Week 4|LIPUS","Week 4|CO₂","Week 4|CO₂ +LIPUS"], "paddingInner": 0, "paddingOuter": 0.5}, "axis": {"values": ["Week 1|LIPUS","Week 2|LIPUS","Week 3|LIPUS","Week 4|LIPUS"], "labelExpr": "split(datum.value, '|')[0]", "labelOffset": 4.9, "title": null}}}},
  {"transform": [{"filter": "datum.s % 2 === 1"}], "mark": {"type": "text", "text": "*"}, "encoding": {"x": {"field": "mid", "type": "nominal", "bandPosition": 1, "scale": {"domain": ["Week 1|Control","Week 1|LIPUS","Week 1|CO₂","Week 1|CO₂ +LIPUS","g1","Week 2|Control","Week 2|LIPUS","Week 2|CO₂","Week 2|CO₂ +LIPUS","g2","Week 3|Control","Week 3|LIPUS","Week 3|CO₂","Week 3|CO₂ +LIPUS","g3","Week 4|Control","Week 4|LIPUS","Week 4|CO₂","Week 4|CO₂ +LIPUS"], "paddingInner": 0, "paddingOuter": 0.5}, "axis": {"values": ["Week 1|LIPUS","Week 2|LIPUS","Week 3|LIPUS","Week 4|LIPUS"], "labelExpr": "split(datum.value, '|')[0]", "labelOffset": 4.9, "title": null}}}}
 ]}
]}
]},
{"spacing": 8, "resolve": {"scale": {"fill": "independent"}, "legend": {"fill": "independent"}}, "hconcat": [
{"width": 187, "height": 96, "title": {"text": "ALP"}, "layer": [
 {"data": {"name": "bars"}, "transform": [{"filter": "datum.gene === 'ALP'"}, {"calculate": "datum.week + '|' + datum.group", "as": "k"}],
  "encoding": {"x": {"field": "k", "type": "nominal", "scale": {"domain": ["Week 1|Control","Week 1|LIPUS","Week 1|CO₂","Week 1|CO₂ +LIPUS","g1","Week 2|Control","Week 2|LIPUS","Week 2|CO₂","Week 2|CO₂ +LIPUS","g2","Week 3|Control","Week 3|LIPUS","Week 3|CO₂","Week 3|CO₂ +LIPUS","g3","Week 4|Control","Week 4|LIPUS","Week 4|CO₂","Week 4|CO₂ +LIPUS"], "paddingInner": 0, "paddingOuter": 0.5}, "axis": {"values": ["Week 1|LIPUS","Week 2|LIPUS","Week 3|LIPUS","Week 4|LIPUS"], "labelExpr": "split(datum.value, '|')[0]", "labelOffset": 4.7, "title": null}},
   "y": {"field": "value", "type": "quantitative", "scale": {"domain": [0, 10], "nice": false}, "axis": {"title": "Fold change", "values": [0,2,4,6,8,10]}}},
  "layer": [
  {"mark": {"type": "bar", "stroke": "black", "strokeWidth": 0.7}, "encoding": {"fill": {"field": "group", "type": "nominal", "scale": {"domain": ["Control","LIPUS","CO₂","CO₂ +LIPUS"], "range": ["#ffffff","#dcdcdc","#8c8c8c","#000000"]}, "legend": {"title": null, "orient": "none", "legendX": 12, "legendY": -17}}}},
  {"mark": {"type": "rule", "color": "black", "strokeWidth": 0.6}, "encoding": {"y2": {"field": "upper"}}},
  {"mark": {"type": "tick", "color": "black", "size": 4, "thickness": 0.6}, "encoding": {"y": {"field": "upper", "type": "quantitative", "scale": {"domain": [0, 10], "nice": false}, "axis": {"title": "Fold change", "values": [0,2,4,6,8,10]}}}}
 ]},
 {"data": {"name": "brackets"}, "transform": [{"filter": "datum.gene === 'ALP'"}, {"window": [{"op": "row_number", "as": "id"}]}, {"calculate": "datum.week + '|' + datum.from", "as": "k1"}, {"calculate": "datum.week + '|' + datum.to", "as": "k2"}, {"fold": ["k1", "k2"], "as": ["end", "pos"]}],
  "encoding": {"x": {"field": "pos", "type": "nominal", "scale": {"domain": ["Week 1|Control","Week 1|LIPUS","Week 1|CO₂","Week 1|CO₂ +LIPUS","g1","Week 2|Control","Week 2|LIPUS","Week 2|CO₂","Week 2|CO₂ +LIPUS","g2","Week 3|Control","Week 3|LIPUS","Week 3|CO₂","Week 3|CO₂ +LIPUS","g3","Week 4|Control","Week 4|LIPUS","Week 4|CO₂","Week 4|CO₂ +LIPUS"], "paddingInner": 0, "paddingOuter": 0.5}, "axis": {"values": ["Week 1|LIPUS","Week 2|LIPUS","Week 3|LIPUS","Week 4|LIPUS"], "labelExpr": "split(datum.value, '|')[0]", "labelOffset": 4.7, "title": null}},
   "y": {"field": "level", "type": "quantitative", "scale": {"domain": [0, 10], "nice": false}, "axis": {"title": "Fold change", "values": [0,2,4,6,8,10]}}},
  "layer": [
  {"mark": {"type": "line", "color": "black", "strokeWidth": 0.6}, "encoding": {"detail": {"field": "id", "type": "nominal"}}},
  {"mark": {"type": "tick", "orient": "vertical", "color": "black", "size": 4, "thickness": 0.6, "yOffset": 2}}
 ]},
 {"data": {"name": "brackets"}, "transform": [{"filter": "datum.gene === 'ALP'"}, {"calculate": "indexof(['Control','LIPUS','CO₂','CO₂ +LIPUS'], datum.from) + indexof(['Control','LIPUS','CO₂','CO₂ +LIPUS'], datum.to)", "as": "s"}, {"calculate": "datum.week + '|' + ['Control','LIPUS','CO₂','CO₂ +LIPUS'][floor(datum.s / 2)]", "as": "mid"}],
  "encoding": {"y": {"field": "level", "type": "quantitative", "scale": {"domain": [0, 10], "nice": false}, "axis": {"title": "Fold change", "values": [0,2,4,6,8,10]}}},
  "layer": [
  {"transform": [{"filter": "datum.s % 2 === 0"}], "mark": {"type": "text", "text": "*"}, "encoding": {"x": {"field": "mid", "type": "nominal", "bandPosition": 0.5, "scale": {"domain": ["Week 1|Control","Week 1|LIPUS","Week 1|CO₂","Week 1|CO₂ +LIPUS","g1","Week 2|Control","Week 2|LIPUS","Week 2|CO₂","Week 2|CO₂ +LIPUS","g2","Week 3|Control","Week 3|LIPUS","Week 3|CO₂","Week 3|CO₂ +LIPUS","g3","Week 4|Control","Week 4|LIPUS","Week 4|CO₂","Week 4|CO₂ +LIPUS"], "paddingInner": 0, "paddingOuter": 0.5}, "axis": {"values": ["Week 1|LIPUS","Week 2|LIPUS","Week 3|LIPUS","Week 4|LIPUS"], "labelExpr": "split(datum.value, '|')[0]", "labelOffset": 4.7, "title": null}}}},
  {"transform": [{"filter": "datum.s % 2 === 1"}], "mark": {"type": "text", "text": "*"}, "encoding": {"x": {"field": "mid", "type": "nominal", "bandPosition": 1, "scale": {"domain": ["Week 1|Control","Week 1|LIPUS","Week 1|CO₂","Week 1|CO₂ +LIPUS","g1","Week 2|Control","Week 2|LIPUS","Week 2|CO₂","Week 2|CO₂ +LIPUS","g2","Week 3|Control","Week 3|LIPUS","Week 3|CO₂","Week 3|CO₂ +LIPUS","g3","Week 4|Control","Week 4|LIPUS","Week 4|CO₂","Week 4|CO₂ +LIPUS"], "paddingInner": 0, "paddingOuter": 0.5}, "axis": {"values": ["Week 1|LIPUS","Week 2|LIPUS","Week 3|LIPUS","Week 4|LIPUS"], "labelExpr": "split(datum.value, '|')[0]", "labelOffset": 4.7, "title": null}}}}
 ]}
]},
{"width": 181, "height": 96, "title": {"text": "Runx2"}, "layer": [
 {"data": {"name": "bars"}, "transform": [{"filter": "datum.gene === 'Runx2'"}, {"calculate": "datum.week + '|' + datum.group", "as": "k"}],
  "encoding": {"x": {"field": "k", "type": "nominal", "scale": {"domain": ["Week 1|Control","Week 1|LIPUS","Week 1|CO₂","Week 1|CO₂ +LIPUS","g1","Week 2|Control","Week 2|LIPUS","Week 2|CO₂","Week 2|CO₂ +LIPUS","g2","Week 3|Control","Week 3|LIPUS","Week 3|CO₂","Week 3|CO₂ +LIPUS","g3","Week 4|Control","Week 4|LIPUS","Week 4|CO₂","Week 4|CO₂ +LIPUS"], "paddingInner": 0, "paddingOuter": 0.5}, "axis": {"values": ["Week 1|LIPUS","Week 2|LIPUS","Week 3|LIPUS","Week 4|LIPUS"], "labelExpr": "split(datum.value, '|')[0]", "labelOffset": 4.5, "title": null}},
   "y": {"field": "value", "type": "quantitative", "scale": {"domain": [0, 20], "nice": false}, "axis": {"title": "Fold change", "values": [0,5,10,15,20]}}},
  "layer": [
  {"mark": {"type": "bar", "stroke": "black", "strokeWidth": 0.7}, "encoding": {"fill": {"field": "group", "type": "nominal", "scale": {"domain": ["Control","LIPUS","CO₂","CO₂ +LIPUS"], "range": ["#ffffff","#dcdcdc","#8c8c8c","#000000"]}, "legend": {"title": null, "orient": "none", "legendX": 6, "legendY": -17}}}},
  {"mark": {"type": "rule", "color": "black", "strokeWidth": 0.6}, "encoding": {"y2": {"field": "upper"}}},
  {"mark": {"type": "tick", "color": "black", "size": 4, "thickness": 0.6}, "encoding": {"y": {"field": "upper", "type": "quantitative", "scale": {"domain": [0, 20], "nice": false}, "axis": {"title": "Fold change", "values": [0,5,10,15,20]}}}}
 ]},
 {"data": {"name": "brackets"}, "transform": [{"filter": "datum.gene === 'Runx2'"}, {"window": [{"op": "row_number", "as": "id"}]}, {"calculate": "datum.week + '|' + datum.from", "as": "k1"}, {"calculate": "datum.week + '|' + datum.to", "as": "k2"}, {"fold": ["k1", "k2"], "as": ["end", "pos"]}],
  "encoding": {"x": {"field": "pos", "type": "nominal", "scale": {"domain": ["Week 1|Control","Week 1|LIPUS","Week 1|CO₂","Week 1|CO₂ +LIPUS","g1","Week 2|Control","Week 2|LIPUS","Week 2|CO₂","Week 2|CO₂ +LIPUS","g2","Week 3|Control","Week 3|LIPUS","Week 3|CO₂","Week 3|CO₂ +LIPUS","g3","Week 4|Control","Week 4|LIPUS","Week 4|CO₂","Week 4|CO₂ +LIPUS"], "paddingInner": 0, "paddingOuter": 0.5}, "axis": {"values": ["Week 1|LIPUS","Week 2|LIPUS","Week 3|LIPUS","Week 4|LIPUS"], "labelExpr": "split(datum.value, '|')[0]", "labelOffset": 4.5, "title": null}},
   "y": {"field": "level", "type": "quantitative", "scale": {"domain": [0, 20], "nice": false}, "axis": {"title": "Fold change", "values": [0,5,10,15,20]}}},
  "layer": [
  {"mark": {"type": "line", "color": "black", "strokeWidth": 0.6}, "encoding": {"detail": {"field": "id", "type": "nominal"}}},
  {"mark": {"type": "tick", "orient": "vertical", "color": "black", "size": 4, "thickness": 0.6, "yOffset": 2}}
 ]},
 {"data": {"name": "brackets"}, "transform": [{"filter": "datum.gene === 'Runx2'"}, {"calculate": "indexof(['Control','LIPUS','CO₂','CO₂ +LIPUS'], datum.from) + indexof(['Control','LIPUS','CO₂','CO₂ +LIPUS'], datum.to)", "as": "s"}, {"calculate": "datum.week + '|' + ['Control','LIPUS','CO₂','CO₂ +LIPUS'][floor(datum.s / 2)]", "as": "mid"}],
  "encoding": {"y": {"field": "level", "type": "quantitative", "scale": {"domain": [0, 20], "nice": false}, "axis": {"title": "Fold change", "values": [0,5,10,15,20]}}},
  "layer": [
  {"transform": [{"filter": "datum.s % 2 === 0"}], "mark": {"type": "text", "text": "*"}, "encoding": {"x": {"field": "mid", "type": "nominal", "bandPosition": 0.5, "scale": {"domain": ["Week 1|Control","Week 1|LIPUS","Week 1|CO₂","Week 1|CO₂ +LIPUS","g1","Week 2|Control","Week 2|LIPUS","Week 2|CO₂","Week 2|CO₂ +LIPUS","g2","Week 3|Control","Week 3|LIPUS","Week 3|CO₂","Week 3|CO₂ +LIPUS","g3","Week 4|Control","Week 4|LIPUS","Week 4|CO₂","Week 4|CO₂ +LIPUS"], "paddingInner": 0, "paddingOuter": 0.5}, "axis": {"values": ["Week 1|LIPUS","Week 2|LIPUS","Week 3|LIPUS","Week 4|LIPUS"], "labelExpr": "split(datum.value, '|')[0]", "labelOffset": 4.5, "title": null}}}},
  {"transform": [{"filter": "datum.s % 2 === 1"}], "mark": {"type": "text", "text": "*"}, "encoding": {"x": {"field": "mid", "type": "nominal", "bandPosition": 1, "scale": {"domain": ["Week 1|Control","Week 1|LIPUS","Week 1|CO₂","Week 1|CO₂ +LIPUS","g1","Week 2|Control","Week 2|LIPUS","Week 2|CO₂","Week 2|CO₂ +LIPUS","g2","Week 3|Control","Week 3|LIPUS","Week 3|CO₂","Week 3|CO₂ +LIPUS","g3","Week 4|Control","Week 4|LIPUS","Week 4|CO₂","Week 4|CO₂ +LIPUS"], "paddingInner": 0, "paddingOuter": 0.5}, "axis": {"values": ["Week 1|LIPUS","Week 2|LIPUS","Week 3|LIPUS","Week 4|LIPUS"], "labelExpr": "split(datum.value, '|')[0]", "labelOffset": 4.5, "title": null}}}}
 ]}
]},
{"width": 194, "height": 96, "title": {"text": "Osterix"}, "layer": [
 {"data": {"name": "bars"}, "transform": [{"filter": "datum.gene === 'Osterix'"}, {"calculate": "datum.week + '|' + datum.group", "as": "k"}],
  "encoding": {"x": {"field": "k", "type": "nominal", "scale": {"domain": ["Week 1|Control","Week 1|LIPUS","Week 1|CO₂","Week 1|CO₂ +LIPUS","g1","Week 2|Control","Week 2|LIPUS","Week 2|CO₂","Week 2|CO₂ +LIPUS","g2","Week 3|Control","Week 3|LIPUS","Week 3|CO₂","Week 3|CO₂ +LIPUS","g3","Week 4|Control","Week 4|LIPUS","Week 4|CO₂","Week 4|CO₂ +LIPUS"], "paddingInner": 0, "paddingOuter": 0.5}, "axis": {"values": ["Week 1|LIPUS","Week 2|LIPUS","Week 3|LIPUS","Week 4|LIPUS"], "labelExpr": "split(datum.value, '|')[0]", "labelOffset": 4.85, "title": null}},
   "y": {"field": "value", "type": "quantitative", "scale": {"domain": [0, 25], "nice": false}, "axis": {"title": "Fold change", "values": [0,5,10,15,20,25]}}},
  "layer": [
  {"mark": {"type": "bar", "stroke": "black", "strokeWidth": 0.7}, "encoding": {"fill": {"field": "group", "type": "nominal", "scale": {"domain": ["Control","LIPUS","CO₂","CO₂ +LIPUS"], "range": ["#ffffff","#dcdcdc","#8c8c8c","#000000"]}, "legend": {"title": null, "orient": "none", "legendX": 14, "legendY": -17}}}},
  {"mark": {"type": "rule", "color": "black", "strokeWidth": 0.6}, "encoding": {"y2": {"field": "upper"}}},
  {"mark": {"type": "tick", "color": "black", "size": 4, "thickness": 0.6}, "encoding": {"y": {"field": "upper", "type": "quantitative", "scale": {"domain": [0, 25], "nice": false}, "axis": {"title": "Fold change", "values": [0,5,10,15,20,25]}}}}
 ]},
 {"data": {"name": "brackets"}, "transform": [{"filter": "datum.gene === 'Osterix'"}, {"window": [{"op": "row_number", "as": "id"}]}, {"calculate": "datum.week + '|' + datum.from", "as": "k1"}, {"calculate": "datum.week + '|' + datum.to", "as": "k2"}, {"fold": ["k1", "k2"], "as": ["end", "pos"]}],
  "encoding": {"x": {"field": "pos", "type": "nominal", "scale": {"domain": ["Week 1|Control","Week 1|LIPUS","Week 1|CO₂","Week 1|CO₂ +LIPUS","g1","Week 2|Control","Week 2|LIPUS","Week 2|CO₂","Week 2|CO₂ +LIPUS","g2","Week 3|Control","Week 3|LIPUS","Week 3|CO₂","Week 3|CO₂ +LIPUS","g3","Week 4|Control","Week 4|LIPUS","Week 4|CO₂","Week 4|CO₂ +LIPUS"], "paddingInner": 0, "paddingOuter": 0.5}, "axis": {"values": ["Week 1|LIPUS","Week 2|LIPUS","Week 3|LIPUS","Week 4|LIPUS"], "labelExpr": "split(datum.value, '|')[0]", "labelOffset": 4.85, "title": null}},
   "y": {"field": "level", "type": "quantitative", "scale": {"domain": [0, 25], "nice": false}, "axis": {"title": "Fold change", "values": [0,5,10,15,20,25]}}},
  "layer": [
  {"mark": {"type": "line", "color": "black", "strokeWidth": 0.6}, "encoding": {"detail": {"field": "id", "type": "nominal"}}},
  {"mark": {"type": "tick", "orient": "vertical", "color": "black", "size": 4, "thickness": 0.6, "yOffset": 2}}
 ]},
 {"data": {"name": "brackets"}, "transform": [{"filter": "datum.gene === 'Osterix'"}, {"calculate": "indexof(['Control','LIPUS','CO₂','CO₂ +LIPUS'], datum.from) + indexof(['Control','LIPUS','CO₂','CO₂ +LIPUS'], datum.to)", "as": "s"}, {"calculate": "datum.week + '|' + ['Control','LIPUS','CO₂','CO₂ +LIPUS'][floor(datum.s / 2)]", "as": "mid"}],
  "encoding": {"y": {"field": "level", "type": "quantitative", "scale": {"domain": [0, 25], "nice": false}, "axis": {"title": "Fold change", "values": [0,5,10,15,20,25]}}},
  "layer": [
  {"transform": [{"filter": "datum.s % 2 === 0"}], "mark": {"type": "text", "text": "*"}, "encoding": {"x": {"field": "mid", "type": "nominal", "bandPosition": 0.5, "scale": {"domain": ["Week 1|Control","Week 1|LIPUS","Week 1|CO₂","Week 1|CO₂ +LIPUS","g1","Week 2|Control","Week 2|LIPUS","Week 2|CO₂","Week 2|CO₂ +LIPUS","g2","Week 3|Control","Week 3|LIPUS","Week 3|CO₂","Week 3|CO₂ +LIPUS","g3","Week 4|Control","Week 4|LIPUS","Week 4|CO₂","Week 4|CO₂ +LIPUS"], "paddingInner": 0, "paddingOuter": 0.5}, "axis": {"values": ["Week 1|LIPUS","Week 2|LIPUS","Week 3|LIPUS","Week 4|LIPUS"], "labelExpr": "split(datum.value, '|')[0]", "labelOffset": 4.85, "title": null}}}},
  {"transform": [{"filter": "datum.s % 2 === 1"}], "mark": {"type": "text", "text": "*"}, "encoding": {"x": {"field": "mid", "type": "nominal", "bandPosition": 1, "scale": {"domain": ["Week 1|Control","Week 1|LIPUS","Week 1|CO₂","Week 1|CO₂ +LIPUS","g1","Week 2|Control","Week 2|LIPUS","Week 2|CO₂","Week 2|CO₂ +LIPUS","g2","Week 3|Control","Week 3|LIPUS","Week 3|CO₂","Week 3|CO₂ +LIPUS","g3","Week 4|Control","Week 4|LIPUS","Week 4|CO₂","Week 4|CO₂ +LIPUS"], "paddingInner": 0, "paddingOuter": 0.5}, "axis": {"values": ["Week 1|LIPUS","Week 2|LIPUS","Week 3|LIPUS","Week 4|LIPUS"], "labelExpr": "split(datum.value, '|')[0]", "labelOffset": 4.85, "title": null}}}}
 ]}
]}
]},
{"spacing": 8, "resolve": {"scale": {"fill": "independent"}, "legend": {"fill": "independent"}}, "hconcat": [
{"width": 187, "height": 96, "title": {"text": "VEGF"}, "layer": [
 {"data": {"name": "bars"}, "transform": [{"filter": "datum.gene === 'VEGF'"}, {"calculate": "datum.week + '|' + datum.group", "as": "k"}],
  "encoding": {"x": {"field": "k", "type": "nominal", "scale": {"domain": ["Week 1|Control","Week 1|LIPUS","Week 1|CO₂","Week 1|CO₂ +LIPUS","g1","Week 2|Control","Week 2|LIPUS","Week 2|CO₂","Week 2|CO₂ +LIPUS","g2","Week 3|Control","Week 3|LIPUS","Week 3|CO₂","Week 3|CO₂ +LIPUS","g3","Week 4|Control","Week 4|LIPUS","Week 4|CO₂","Week 4|CO₂ +LIPUS"], "paddingInner": 0, "paddingOuter": 0.5}, "axis": {"values": ["Week 1|LIPUS","Week 2|LIPUS","Week 3|LIPUS","Week 4|LIPUS"], "labelExpr": "split(datum.value, '|')[0]", "labelOffset": 4.7, "title": null}},
   "y": {"field": "value", "type": "quantitative", "scale": {"domain": [0, 50], "nice": false}, "axis": {"title": "Fold change", "values": [0,10,20,30,40,50]}}},
  "layer": [
  {"mark": {"type": "bar", "stroke": "black", "strokeWidth": 0.7}, "encoding": {"fill": {"field": "group", "type": "nominal", "scale": {"domain": ["Control","LIPUS","CO₂","CO₂ +LIPUS"], "range": ["#ffffff","#dcdcdc","#8c8c8c","#000000"]}, "legend": {"title": null, "orient": "none", "legendX": 12, "legendY": -17}}}},
  {"mark": {"type": "rule", "color": "black", "strokeWidth": 0.6}, "encoding": {"y2": {"field": "upper"}}},
  {"mark": {"type": "tick", "color": "black", "size": 4, "thickness": 0.6}, "encoding": {"y": {"field": "upper", "type": "quantitative", "scale": {"domain": [0, 50], "nice": false}, "axis": {"title": "Fold change", "values": [0,10,20,30,40,50]}}}}
 ]},
 {"data": {"name": "brackets"}, "transform": [{"filter": "datum.gene === 'VEGF'"}, {"window": [{"op": "row_number", "as": "id"}]}, {"calculate": "datum.week + '|' + datum.from", "as": "k1"}, {"calculate": "datum.week + '|' + datum.to", "as": "k2"}, {"fold": ["k1", "k2"], "as": ["end", "pos"]}],
  "encoding": {"x": {"field": "pos", "type": "nominal", "scale": {"domain": ["Week 1|Control","Week 1|LIPUS","Week 1|CO₂","Week 1|CO₂ +LIPUS","g1","Week 2|Control","Week 2|LIPUS","Week 2|CO₂","Week 2|CO₂ +LIPUS","g2","Week 3|Control","Week 3|LIPUS","Week 3|CO₂","Week 3|CO₂ +LIPUS","g3","Week 4|Control","Week 4|LIPUS","Week 4|CO₂","Week 4|CO₂ +LIPUS"], "paddingInner": 0, "paddingOuter": 0.5}, "axis": {"values": ["Week 1|LIPUS","Week 2|LIPUS","Week 3|LIPUS","Week 4|LIPUS"], "labelExpr": "split(datum.value, '|')[0]", "labelOffset": 4.7, "title": null}},
   "y": {"field": "level", "type": "quantitative", "scale": {"domain": [0, 50], "nice": false}, "axis": {"title": "Fold change", "values": [0,10,20,30,40,50]}}},
  "layer": [
  {"mark": {"type": "line", "color": "black", "strokeWidth": 0.6}, "encoding": {"detail": {"field": "id", "type": "nominal"}}},
  {"mark": {"type": "tick", "orient": "vertical", "color": "black", "size": 4, "thickness": 0.6, "yOffset": 2}}
 ]},
 {"data": {"name": "brackets"}, "transform": [{"filter": "datum.gene === 'VEGF'"}, {"calculate": "indexof(['Control','LIPUS','CO₂','CO₂ +LIPUS'], datum.from) + indexof(['Control','LIPUS','CO₂','CO₂ +LIPUS'], datum.to)", "as": "s"}, {"calculate": "datum.week + '|' + ['Control','LIPUS','CO₂','CO₂ +LIPUS'][floor(datum.s / 2)]", "as": "mid"}],
  "encoding": {"y": {"field": "level", "type": "quantitative", "scale": {"domain": [0, 50], "nice": false}, "axis": {"title": "Fold change", "values": [0,10,20,30,40,50]}}},
  "layer": [
  {"transform": [{"filter": "datum.s % 2 === 0"}], "mark": {"type": "text", "text": "*"}, "encoding": {"x": {"field": "mid", "type": "nominal", "bandPosition": 0.5, "scale": {"domain": ["Week 1|Control","Week 1|LIPUS","Week 1|CO₂","Week 1|CO₂ +LIPUS","g1","Week 2|Control","Week 2|LIPUS","Week 2|CO₂","Week 2|CO₂ +LIPUS","g2","Week 3|Control","Week 3|LIPUS","Week 3|CO₂","Week 3|CO₂ +LIPUS","g3","Week 4|Control","Week 4|LIPUS","Week 4|CO₂","Week 4|CO₂ +LIPUS"], "paddingInner": 0, "paddingOuter": 0.5}, "axis": {"values": ["Week 1|LIPUS","Week 2|LIPUS","Week 3|LIPUS","Week 4|LIPUS"], "labelExpr": "split(datum.value, '|')[0]", "labelOffset": 4.7, "title": null}}}},
  {"transform": [{"filter": "datum.s % 2 === 1"}], "mark": {"type": "text", "text": "*"}, "encoding": {"x": {"field": "mid", "type": "nominal", "bandPosition": 1, "scale": {"domain": ["Week 1|Control","Week 1|LIPUS","Week 1|CO₂","Week 1|CO₂ +LIPUS","g1","Week 2|Control","Week 2|LIPUS","Week 2|CO₂","Week 2|CO₂ +LIPUS","g2","Week 3|Control","Week 3|LIPUS","Week 3|CO₂","Week 3|CO₂ +LIPUS","g3","Week 4|Control","Week 4|LIPUS","Week 4|CO₂","Week 4|CO₂ +LIPUS"], "paddingInner": 0, "paddingOuter": 0.5}, "axis": {"values": ["Week 1|LIPUS","Week 2|LIPUS","Week 3|LIPUS","Week 4|LIPUS"], "labelExpr": "split(datum.value, '|')[0]", "labelOffset": 4.7, "title": null}}}}
 ]}
]},
{"width": 182, "height": 96, "title": {"text": "eNOS"}, "layer": [
 {"data": {"name": "bars"}, "transform": [{"filter": "datum.gene === 'eNOS'"}, {"calculate": "datum.week + '|' + datum.group", "as": "k"}],
  "encoding": {"x": {"field": "k", "type": "nominal", "scale": {"domain": ["Week 1|Control","Week 1|LIPUS","Week 1|CO₂","Week 1|CO₂ +LIPUS","g1","Week 2|Control","Week 2|LIPUS","Week 2|CO₂","Week 2|CO₂ +LIPUS","g2","Week 3|Control","Week 3|LIPUS","Week 3|CO₂","Week 3|CO₂ +LIPUS","g3","Week 4|Control","Week 4|LIPUS","Week 4|CO₂","Week 4|CO₂ +LIPUS"], "paddingInner": 0, "paddingOuter": 0.5}, "axis": {"values": ["Week 1|LIPUS","Week 2|LIPUS","Week 3|LIPUS","Week 4|LIPUS"], "labelExpr": "split(datum.value, '|')[0]", "labelOffset": 4.55, "title": null}},
   "y": {"field": "value", "type": "quantitative", "scale": {"domain": [0, 10], "nice": false}, "axis": {"title": "Fold change", "values": [0,5,10]}}},
  "layer": [
  {"mark": {"type": "bar", "stroke": "black", "strokeWidth": 0.7}, "encoding": {"fill": {"field": "group", "type": "nominal", "scale": {"domain": ["Control","LIPUS","CO₂","CO₂ +LIPUS"], "range": ["#ffffff","#dcdcdc","#8c8c8c","#000000"]}, "legend": {"title": null, "orient": "none", "legendX": 6, "legendY": -17}}}},
  {"mark": {"type": "rule", "color": "black", "strokeWidth": 0.6}, "encoding": {"y2": {"field": "upper"}}},
  {"mark": {"type": "tick", "color": "black", "size": 4, "thickness": 0.6}, "encoding": {"y": {"field": "upper", "type": "quantitative", "scale": {"domain": [0, 10], "nice": false}, "axis": {"title": "Fold change", "values": [0,5,10]}}}}
 ]},
 {"data": {"name": "brackets"}, "transform": [{"filter": "datum.gene === 'eNOS'"}, {"window": [{"op": "row_number", "as": "id"}]}, {"calculate": "datum.week + '|' + datum.from", "as": "k1"}, {"calculate": "datum.week + '|' + datum.to", "as": "k2"}, {"fold": ["k1", "k2"], "as": ["end", "pos"]}],
  "encoding": {"x": {"field": "pos", "type": "nominal", "scale": {"domain": ["Week 1|Control","Week 1|LIPUS","Week 1|CO₂","Week 1|CO₂ +LIPUS","g1","Week 2|Control","Week 2|LIPUS","Week 2|CO₂","Week 2|CO₂ +LIPUS","g2","Week 3|Control","Week 3|LIPUS","Week 3|CO₂","Week 3|CO₂ +LIPUS","g3","Week 4|Control","Week 4|LIPUS","Week 4|CO₂","Week 4|CO₂ +LIPUS"], "paddingInner": 0, "paddingOuter": 0.5}, "axis": {"values": ["Week 1|LIPUS","Week 2|LIPUS","Week 3|LIPUS","Week 4|LIPUS"], "labelExpr": "split(datum.value, '|')[0]", "labelOffset": 4.55, "title": null}},
   "y": {"field": "level", "type": "quantitative", "scale": {"domain": [0, 10], "nice": false}, "axis": {"title": "Fold change", "values": [0,5,10]}}},
  "layer": [
  {"mark": {"type": "line", "color": "black", "strokeWidth": 0.6}, "encoding": {"detail": {"field": "id", "type": "nominal"}}},
  {"mark": {"type": "tick", "orient": "vertical", "color": "black", "size": 4, "thickness": 0.6, "yOffset": 2}}
 ]},
 {"data": {"name": "brackets"}, "transform": [{"filter": "datum.gene === 'eNOS'"}, {"calculate": "indexof(['Control','LIPUS','CO₂','CO₂ +LIPUS'], datum.from) + indexof(['Control','LIPUS','CO₂','CO₂ +LIPUS'], datum.to)", "as": "s"}, {"calculate": "datum.week + '|' + ['Control','LIPUS','CO₂','CO₂ +LIPUS'][floor(datum.s / 2)]", "as": "mid"}],
  "encoding": {"y": {"field": "level", "type": "quantitative", "scale": {"domain": [0, 10], "nice": false}, "axis": {"title": "Fold change", "values": [0,5,10]}}},
  "layer": [
  {"transform": [{"filter": "datum.s % 2 === 0"}], "mark": {"type": "text", "text": "*"}, "encoding": {"x": {"field": "mid", "type": "nominal", "bandPosition": 0.5, "scale": {"domain": ["Week 1|Control","Week 1|LIPUS","Week 1|CO₂","Week 1|CO₂ +LIPUS","g1","Week 2|Control","Week 2|LIPUS","Week 2|CO₂","Week 2|CO₂ +LIPUS","g2","Week 3|Control","Week 3|LIPUS","Week 3|CO₂","Week 3|CO₂ +LIPUS","g3","Week 4|Control","Week 4|LIPUS","Week 4|CO₂","Week 4|CO₂ +LIPUS"], "paddingInner": 0, "paddingOuter": 0.5}, "axis": {"values": ["Week 1|LIPUS","Week 2|LIPUS","Week 3|LIPUS","Week 4|LIPUS"], "labelExpr": "split(datum.value, '|')[0]", "labelOffset": 4.55, "title": null}}}},
  {"transform": [{"filter": "datum.s % 2 === 1"}], "mark": {"type": "text", "text": "*"}, "encoding": {"x": {"field": "mid", "type": "nominal", "bandPosition": 1, "scale": {"domain": ["Week 1|Control","Week 1|LIPUS","Week 1|CO₂","Week 1|CO₂ +LIPUS","g1","Week 2|Control","Week 2|LIPUS","Week 2|CO₂","Week 2|CO₂ +LIPUS","g2","Week 3|Control","Week 3|LIPUS","Week 3|CO₂","Week 3|CO₂ +LIPUS","g3","Week 4|Control","Week 4|LIPUS","Week 4|CO₂","Week 4|CO₂ +LIPUS"], "paddingInner": 0, "paddingOuter": 0.5}, "axis": {"values": ["Week 1|LIPUS","Week 2|LIPUS","Week 3|LIPUS","Week 4|LIPUS"], "labelExpr": "split(datum.value, '|')[0]", "labelOffset": 4.55, "title": null}}}}
 ]}
]},
{"width": 197, "height": 96, "title": {"text": "TSP-1"}, "layer": [
 {"data": {"name": "bars"}, "transform": [{"filter": "datum.gene === 'TSP-1'"}, {"calculate": "datum.week + '|' + datum.group", "as": "k"}],
  "encoding": {"x": {"field": "k", "type": "nominal", "scale": {"domain": ["Week 1|Control","Week 1|LIPUS","Week 1|CO₂","Week 1|CO₂ +LIPUS","g1","Week 2|Control","Week 2|LIPUS","Week 2|CO₂","Week 2|CO₂ +LIPUS","g2","Week 3|Control","Week 3|LIPUS","Week 3|CO₂","Week 3|CO₂ +LIPUS","g3","Week 4|Control","Week 4|LIPUS","Week 4|CO₂","Week 4|CO₂ +LIPUS"], "paddingInner": 0, "paddingOuter": 0.5}, "axis": {"values": ["Week 1|LIPUS","Week 2|LIPUS","Week 3|LIPUS","Week 4|LIPUS"], "labelExpr": "split(datum.value, '|')[0]", "labelOffset": 4.9, "title": null}},
   "y": {"field": "value", "type": "quantitative", "scale": {"domain": [0, 5], "nice": false}, "axis": {"title": "Fold change", "values": [0,1,2,3,4,5]}}},
  "layer": [
  {"mark": {"type": "bar", "stroke": "black", "strokeWidth": 0.7}, "encoding": {"fill": {"field": "group", "type": "nominal", "scale": {"domain": ["Control","LIPUS","CO₂","CO₂ +LIPUS"], "range": ["#ffffff","#dcdcdc","#8c8c8c","#000000"]}, "legend": {"title": null, "orient": "none", "legendX": 15, "legendY": -17}}}},
  {"mark": {"type": "rule", "color": "black", "strokeWidth": 0.6}, "encoding": {"y2": {"field": "upper"}}},
  {"mark": {"type": "tick", "color": "black", "size": 4, "thickness": 0.6}, "encoding": {"y": {"field": "upper", "type": "quantitative", "scale": {"domain": [0, 5], "nice": false}, "axis": {"title": "Fold change", "values": [0,1,2,3,4,5]}}}}
 ]}
]}
]}
]
}
